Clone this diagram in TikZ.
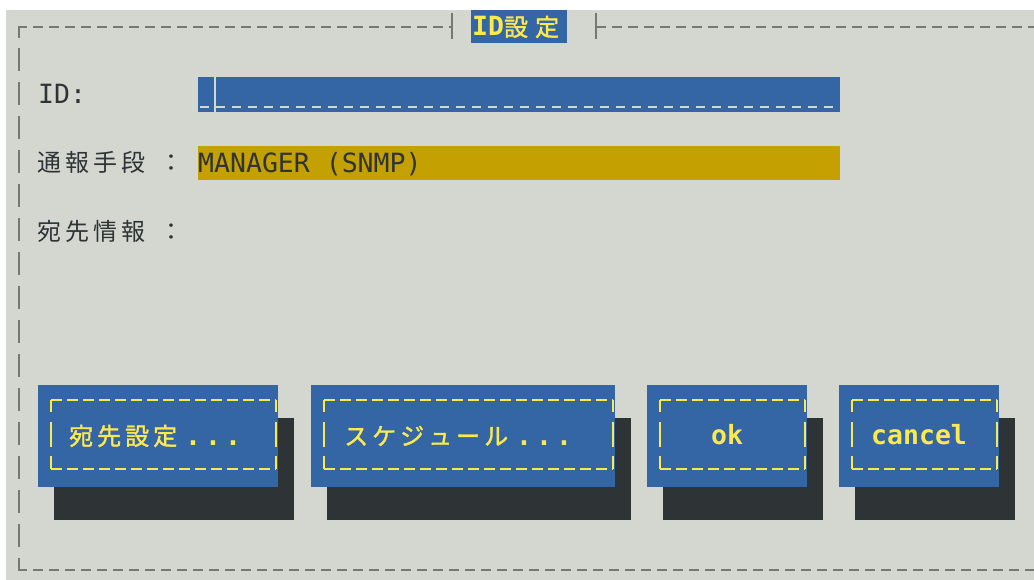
\documentclass[tikz,border=0pt]{standalone}
\usepackage{fontspec}
\setmonofont{DejaVu Sans Mono}
\newfontfamily\jpf{Noto Sans CJK JP}
\newfontfamily\jpbf{Noto Sans CJK JP}[FakeBold=1.5]
\definecolor{bgc}{HTML}{D3D7CF}
\definecolor{tblue}{HTML}{3465A4}
\definecolor{tyel}{HTML}{FCE94F}
\definecolor{fieldc}{HTML}{C4A000}
\definecolor{darkc}{HTML}{2E3436}
\definecolor{framec}{HTML}{767873}
\newcommand\mfont{\ttfamily\fontsize{26.5}{30}\selectfont}
\newcommand\mbfont{\ttfamily\bfseries\fontsize{26.5}{30}\selectfont}
\newcommand\jfont{\jpf\fontsize{24}{28}\selectfont}
\newcommand\jbfont{\jpbf\fontsize{24}{28}\selectfont}
\newcommand\jsp{\hspace{4pt}}
\newcommand\tdots{{\mbfont .\hspace{4pt}.\hspace{4pt}.}}
\tikzset{
  frm/.style={draw=framec, line width=2pt},
  frmdash/.style={frm, dash pattern=on 10pt off 6pt},
  ydash/.style={draw=tyel, line width=2pt, dash pattern=on 11pt off 5pt},
  ysolid/.style={draw=tyel, line width=2pt},
  lbl/.style={inner sep=0pt, text=darkc, anchor=base west},
  btxt/.style={inner sep=0pt, text=tyel, anchor=base west},
}
\begin{document}
\begin{tikzpicture}[x=1pt,y=-1pt]
\useasboundingbox (0,0) rectangle (1034,580);
\fill[white] (0,0) rectangle (1034,580);
\fill[bgc] (6,10) rectangle (1034,580);
% outer frame
\draw[frm] (19,38) -- (19,27) -- (27,27);
\draw[frmdash] (33,27) -- (452,27);
\draw[frm] (452,13) -- (452,39);
\draw[frm] (596,13) -- (596,39);
\draw[frmdash] (596,27) -- (1034,27);
\foreach \t in {44,78,...,520} \draw[frm] (19,\t+4) -- (19,\t+27);
\draw[frm] (19,558) -- (19,570) -- (27,570);
\draw[frmdash] (33,570) -- (1034,570);
% title
\fill[tblue] (471,10) rectangle (567,43);
\node[btxt] (title) at (472,36) {{\mbfont ID}{\jbfont 設\hspace{7pt}定}};
% labels
\node[lbl] (idlbl) at (38,104) {\mfont ID:};
\node[lbl] (mlbl) at (37,172) {\jfont 通\jsp 報\jsp 手\jsp 段\hspace{14pt}：};
\node[lbl] (dlbl) at (37,241) {\jfont 宛\jsp 先\jsp 情\jsp 報\hspace{14pt}：};
% ID field
\fill[tblue] (198,77) rectangle (840,112);
\fill[bgc] (213.5,77) rectangle (216,112);
\draw[draw=bgc, line width=1.5pt, dash pattern=on 9pt off 7pt] (200,107) -- (838,107);
\coordinate (idfield) at (198,77);
% method field
\fill[fieldc] (198,146) rectangle (840,180);
\node[lbl] (mval) at (198,173) {\mfont MANAGER (SNMP)};
% buttons
\foreach \a/\b in {38/278, 311/615, 647/807, 839/999} {
  \fill[darkc] (\a+16,418) rectangle (\b+16,520);
  \fill[tblue] (\a,385) rectangle (\b,487);
  \draw[ydash] (\a+13,400) -- (\b-2,400);
  \draw[ydash] (\a+13,469) -- (\b-2,469);
  \foreach \x in {\a+13,\b-2} {
    \draw[ysolid] (\x,400) -- (\x,412);
    \draw[ysolid] (\x,422) -- (\x,447);
    \draw[ysolid] (\x,456) -- (\x,469);
  }
}
\node[btxt] (b1) at (69,445) {\jbfont 宛\jsp 先\jsp 設\jsp 定\hspace{8pt}\tdots};
\node[btxt] (b2) at (344,445) {\jbfont ス\jsp ケ\jsp ジ\jsp ュ\jsp ー\jsp ル\hspace{8pt}\tdots};
\node[btxt, anchor=base] (b3) at (727,444) {\mbfont ok};
\node[btxt] (b4) at (871,444) {\mbfont cancel};
\end{tikzpicture}
\end{document}
